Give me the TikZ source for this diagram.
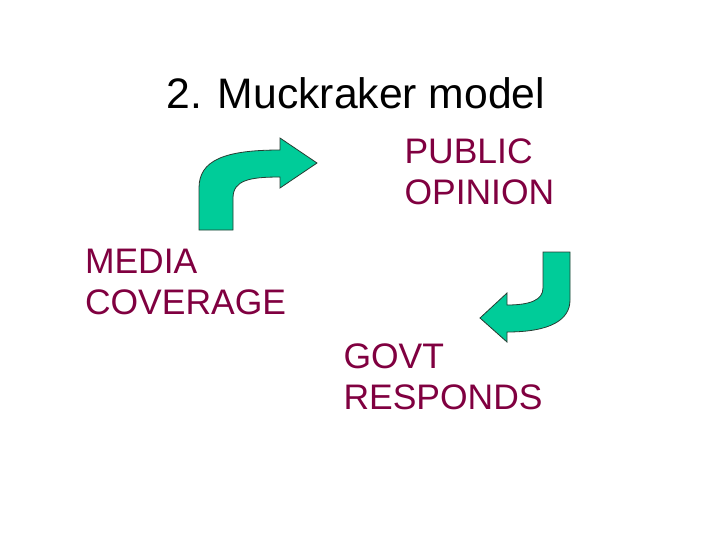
\documentclass[tikz,border=0pt]{standalone}
\usepackage{fontspec}
\setmainfont{Liberation Sans}
\definecolor{slidetext}{RGB}{128,0,64}
\definecolor{arrowfill}{RGB}{0,204,153}
\tikzset{every picture/.style={line width=0.75pt}}

\begin{document}
\begin{tikzpicture}[x=0.75pt,y=0.75pt,yscale=-1,xscale=1,
  bentarrow/.style={draw={rgb, 255:red, 40; green, 60; blue, 50},line width=0.6,fill=arrowfill},
  boxtext/.style={anchor=base west,inner sep=0pt,align=left,text=slidetext,font=\fontsize{26.6}{30.75}\selectfont}]
\useasboundingbox (0,0) rectangle (720,540);

%Shape: Bent Arrow up-right [id:dp1]
\draw [bentarrow] (199,230) -- (199,188) .. controls (199,160) and (225,150) .. (280,150) -- (280,138) -- (317,163) -- (280,188) -- (280,177) .. controls (250,177) and (233,180) .. (233,198) -- (233,230) -- cycle ;
%Shape: Bent Arrow down-left [id:dp2]
\draw [bentarrow] (543,252) -- (570,252) -- (570,300) .. controls (570,320) and (550,332) .. (507,332) -- (507,342) -- (480,318) -- (507,293) -- (507,305) .. controls (530,305) and (543,300) .. (543,288) -- cycle ;

% Text Node
\draw (166,108) node (title) [anchor=base west][inner sep=0pt] [font=\fontsize{32}{38}\selectfont] {2. Muckraker model};
% Text Node
\draw (404,204) node (public) [boxtext] {PUBLIC\\OPINION};
% Text Node
\draw (84.5,314.5) node (media) [boxtext] {MEDIA\\COVERAGE};
% Text Node
\draw (343,409.5) node (govt) [boxtext] {GOVT\\RESPONDS};

\end{tikzpicture}
\end{document}
